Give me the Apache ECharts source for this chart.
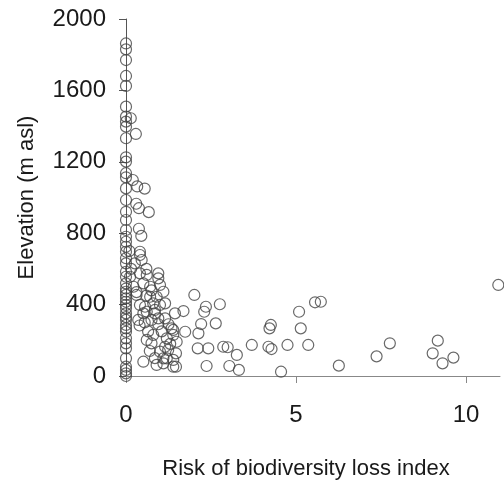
<!DOCTYPE html>
<html>
<head>
<meta charset="utf-8">
<script src="https://cdn.jsdelivr.net/npm/echarts@6/dist/echarts.min.js"></script>
<style>
  html, body { margin: 0; padding: 0; background: #fff; }
  #chart { width: 504px; height: 481px; }
</style>
</head>
<body>
<div id="chart"></div>
<script>
// risk index (x) and elevation in m asl (y), paired by position
const riskIndex = [
  0, 0, 0, 0, 0, 0, 0, 0, 0, 0, 0, 0, 0, 0, 0, 0, 0, 0, 0, 0,
  0, 0, 0, 0, 0, 0, 0, 0, 0, 0, 0, 0, 0, 0, 0, 0, 0, 0, 0, 0,
  0, 0, 0, 0, 0, 0, 0, 0, 0,
  0.14, 0.12, 0.2, 0.22, 0.15, 0.1,
  0.29, 0.33, 0.55, 0.3, 0.38, 0.67, 0.38, 0.45,
  0.41, 0.41, 0.46, 0.26,
  0.41, 0.61, 0.95, 0.95,
  0.51, 0.71, 1.0, 1.1,
  0.31, 0.71, 0.9,
  0.41, 0.8, 1.15, 0.31,
  0.56, 0.51, 0.85, 0.75, 1.15, 0.61, 0.75, 1.0, 1.24, 0.51, 1.1, 1.39, 1.39, 1.2, 1.39, 1.44,
  1.1, 0.9, 0.36, 0.4, 0.61, 0.95, 0.85, 1.0,
  0.6, 0.75, 0.95, 1.05, 0.65, 0.55, 0.8, 1.25, 0.7, 0.85, 0.6, 1.3,
  2.01, 2.35, 2.3, 2.76, 1.69, 2.21, 2.64, 1.74, 2.13, 1.39, 1.34, 1.49, 1.15, 1.2, 1.47, 1.47,
  2.11, 2.42, 2.37, 2.86, 2.99, 3.26, 3.04, 3.32, 3.7,
  4.22, 4.26, 4.19, 4.28, 4.56, 4.75, 5.09, 5.14, 5.36, 5.56, 5.73, 6.26,
  7.37, 7.76, 9.17, 9.02, 9.31, 9.63, 10.95
];
const elevation = [
  1863, 1830, 1770, 1681, 1625, 1509, 1453, 1425, 1397, 1332, 1225, 1201, 1136, 1113, 1051, 986, 920, 874, 818, 780,
  752, 724, 696, 660, 631, 584, 556, 519, 490, 472, 454, 435, 416, 398, 379, 351, 330, 314, 286, 267,
  248, 211, 183, 155, 99, 52, 34, 15, 0,
  1444, 556, 1098, 500, 600, 700,
  1356, 1062, 1050, 965, 940, 918, 825, 785,
  696, 678, 650, 631,
  575, 566, 575, 547,
  519, 500, 510, 472,
  454, 444, 444,
  398, 407, 407, 470,
  388, 351, 351, 314, 323, 202, 183, 136, 146, 80, 99, 90, 52, 211, 258, 351,
  71, 62, 314, 283, 360, 323, 370, 398,
  600, 480, 290, 250, 250, 300, 230, 290, 140, 100, 450, 180,
  454, 388, 360, 402, 364, 291, 295, 248, 239, 230, 267, 192, 164, 99, 127, 52,
  155, 155, 56, 164, 161, 118, 56, 34, 174,
  267, 286, 164, 151, 24, 174, 360, 267, 174, 413, 416, 58,
  110, 183, 198, 127, 71, 103, 510
];
const xTicks = [0, 5, 10];
const yTicks = [0, 400, 800, 1200, 1600, 2000];

const points = riskIndex.map((x, i) => [x, elevation[i]]);

const chart = echarts.init(document.getElementById('chart'));
chart.setOption({
  animation: false,
  grid: { left: 126, right: 4, top: 19, bottom: 105, outerBoundsMode: 'none' },
  xAxis: {
    type: 'value',
    min: 0,
    max: 11,
    interval: 5,
    name: 'Risk of biodiversity loss index',
    nameLocation: 'middle',
    nameGap: 82,
    nameTextStyle: { fontFamily: 'Liberation Sans', fontSize: 22, color: '#1a1a1a', padding: [0, 14, 0, 0] },
    axisLine: { lineStyle: { color: '#888', width: 1 } },
    axisTick: { length: 7, customValues: xTicks, lineStyle: { color: '#888' } },
    axisLabel: { customValues: xTicks, margin: 27, fontFamily: 'Liberation Sans', fontSize: 24, color: '#1a1a1a',
      formatter: v => String(v) },
    splitLine: { show: false }
  },
  yAxis: {
    type: 'value',
    min: 0,
    max: 2000,
    interval: 400,
    name: 'Elevation (m asl)',
    nameLocation: 'middle',
    nameGap: 88,
    nameTextStyle: { fontFamily: 'Liberation Sans', fontSize: 22, color: '#1a1a1a' },
    axisLine: { show: true, lineStyle: { color: '#555', width: 1 } },
    axisTick: { show: true, length: 7, customValues: yTicks, lineStyle: { color: '#555' } },
    axisLabel: { customValues: yTicks, margin: 20, fontFamily: 'Liberation Sans', fontSize: 24, color: '#1a1a1a',
      formatter: v => String(v) },
    splitLine: { show: false }
  },
  series: [{
    type: 'scatter',
    data: points,
    symbol: 'circle',
    symbolSize: 11,
    clip: false,
    itemStyle: { color: 'rgba(255,255,255,0)', borderColor: '#444', borderWidth: 1.2 }
  }]
});
</script>
</body>
</html>
